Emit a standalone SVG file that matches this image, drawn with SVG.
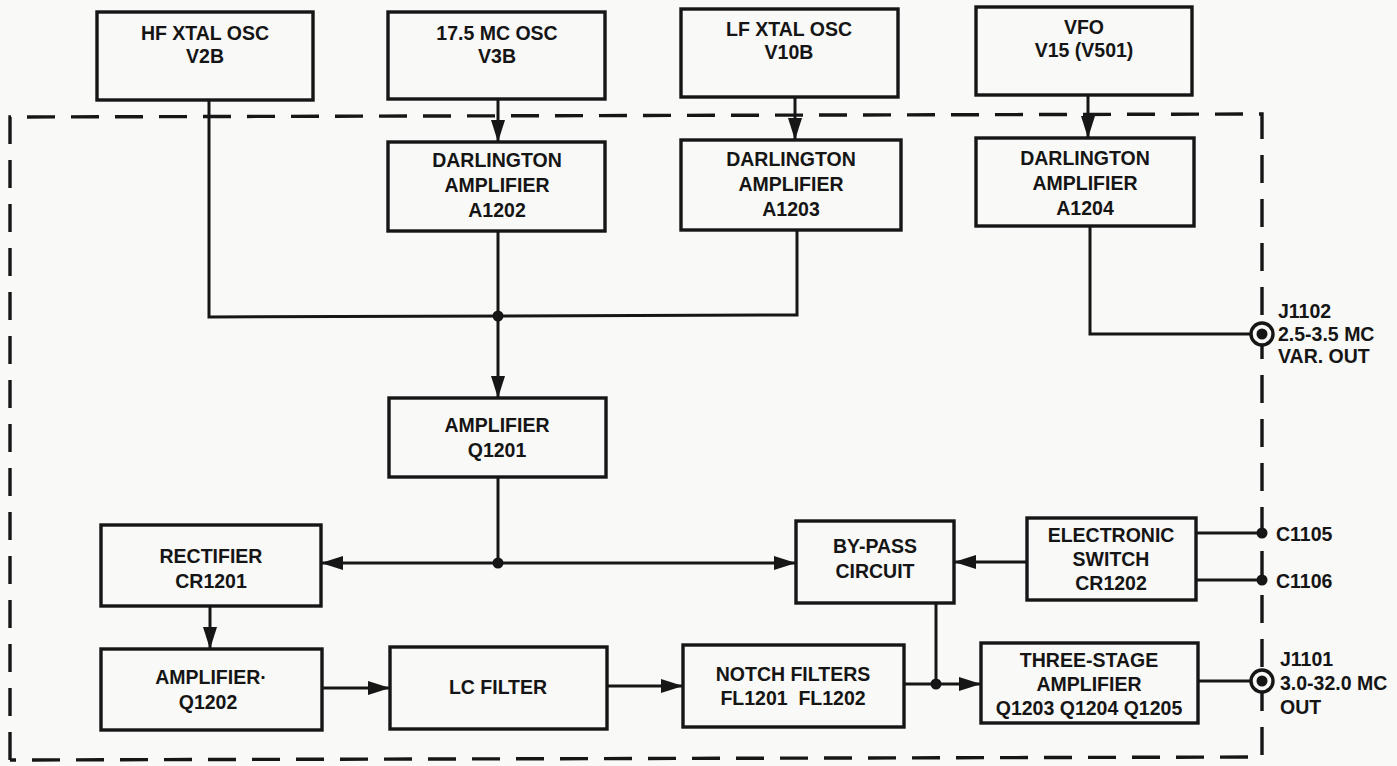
<svg xmlns="http://www.w3.org/2000/svg" width="1397" height="766" viewBox="0 0 1397 766">
<defs>
<style>
.box{fill:none;stroke:#161616;stroke-width:3.4}
.ln{fill:none;stroke:#161616;stroke-width:3}
.dash{fill:none;stroke:#161616;stroke-width:3.4;stroke-dasharray:28 16}
text{font-family:"Liberation Sans","DejaVu Sans",sans-serif;font-size:19.5px;font-weight:bold;fill:#151515;text-anchor:middle}
.lbl{text-anchor:start}
.dot{fill:#161616}
</style>
<marker id="ah" viewBox="0 0 22 14" refX="22" refY="7" markerWidth="22" markerHeight="14" markerUnits="userSpaceOnUse" orient="auto">
<path d="M0,0 L22,7 L0,14 z" fill="#161616"/>
</marker>
</defs>
<rect width="1397" height="766" fill="#f9f9f7"/>
<path class="dash" d="M10,760 L10,117 L1262,114 L1262,757 L10,760"/>
<g id="connectors">
<path class="ln" d="M209,100 L209,317 L797,315 L797,230"/>
<path class="ln" d="M498,99 L498,142" marker-end="url(#ah)"/>
<path class="ln" d="M795,97 L795,140" marker-end="url(#ah)"/>
<path class="ln" d="M1088,95 L1088,138" marker-end="url(#ah)"/>
<path class="ln" d="M498,231 L498,398" marker-end="url(#ah)"/>
<circle class="dot" cx="498" cy="316" r="5.5"/>
<path class="ln" d="M1090,226 L1090,334 L1251,334"/>
<path class="ln" d="M498,477 L498,563"/>
<path class="ln" d="M498,563 L321,563" marker-end="url(#ah)"/>
<path class="ln" d="M498,563 L796,563" marker-end="url(#ah)"/>
<circle class="dot" cx="498" cy="563" r="5.5"/>
<path class="ln" d="M1027,562 L954,562" marker-end="url(#ah)"/>
<path class="ln" d="M1196,533 L1262,533"/>
<circle class="dot" cx="1262" cy="533" r="5.5"/>
<path class="ln" d="M1196,580 L1262,580"/>
<circle class="dot" cx="1262" cy="580" r="5.5"/>
<path class="ln" d="M210,606 L210,649" marker-end="url(#ah)"/>
<path class="ln" d="M322,688 L390,688" marker-end="url(#ah)"/>
<path class="ln" d="M607,686 L683,686" marker-end="url(#ah)"/>
<path class="ln" d="M904,684 L981,684" marker-end="url(#ah)"/>
<path class="ln" d="M936,603 L936,684"/>
<circle class="dot" cx="936" cy="684" r="5.5"/>
<path class="ln" d="M1198,681 L1251,681"/>
</g>
<g id="J1102">
<circle cx="1262" cy="334" r="11" fill="#f9f9f7" stroke="#161616" stroke-width="3.4"/>
<circle class="dot" cx="1262" cy="334" r="5.5"/>
<text class="lbl" x="1278" y="318">J1102</text>
<text class="lbl" x="1278" y="341">2.5-3.5 MC</text>
<text class="lbl" x="1278" y="363">VAR. OUT</text>
</g>
<g id="J1101">
<circle cx="1262" cy="681" r="11" fill="#f9f9f7" stroke="#161616" stroke-width="3.4"/>
<circle class="dot" cx="1262" cy="681" r="5.5"/>
<text class="lbl" x="1280" y="666">J1101</text>
<text class="lbl" x="1280" y="690">3.0-32.0 MC</text>
<text class="lbl" x="1280" y="714">OUT</text>
</g>
<g id="C1105"><text class="lbl" x="1276" y="541">C1105</text></g>
<g id="C1106"><text class="lbl" x="1276" y="588">C1106</text></g>
<g id="hfosc"><rect class="box" x="97" y="12" width="216" height="88"/><text x="205" y="40">HF XTAL OSC</text><text x="205" y="63">V2B</text></g>
<g id="mcosc"><rect class="box" x="388" y="12" width="217" height="87"/><text x="497" y="40">17.5 MC OSC</text><text x="497" y="63">V3B</text></g>
<g id="lfosc"><rect class="box" x="681" y="9" width="217" height="88"/><text x="789" y="36">LF XTAL OSC</text><text x="789" y="59">V10B</text></g>
<g id="vfo"><rect class="box" x="976" y="7" width="216" height="88"/><text x="1084" y="34">VFO</text><text x="1084" y="57">V15 (V501)</text></g>
<g id="a1202"><rect class="box" x="388" y="142" width="217" height="89"/><text x="497" y="167">DARLINGTON</text><text x="497" y="192">AMPLIFIER</text><text x="497" y="217">A1202</text></g>
<g id="a1203"><rect class="box" x="681" y="140" width="220" height="90"/><text x="791" y="166">DARLINGTON</text><text x="791" y="191">AMPLIFIER</text><text x="791" y="216">A1203</text></g>
<g id="a1204"><rect class="box" x="976" y="138" width="218" height="88"/><text x="1085" y="165">DARLINGTON</text><text x="1085" y="190">AMPLIFIER</text><text x="1085" y="215">A1204</text></g>
<g id="q1201"><rect class="box" x="389" y="398" width="217" height="79"/><text x="497" y="432">AMPLIFIER</text><text x="497" y="457">Q1201</text></g>
<g id="cr1201"><rect class="box" x="101" y="525" width="220" height="81"/><text x="211" y="563">RECTIFIER</text><text x="211" y="588">CR1201</text></g>
<g id="q1202"><rect class="box" x="101" y="649" width="221" height="81"/><text x="211" y="684">AMPLIFIER·</text><text x="208" y="709">Q1202</text></g>
<g id="lcfilter"><rect class="box" x="390" y="647" width="217" height="82"/><text x="498" y="694">LC FILTER</text></g>
<g id="notch"><rect class="box" x="683" y="645" width="221" height="82"/><text x="793" y="681">NOTCH FILTERS</text><text x="793" y="705">FL1201&#160;&#160;FL1202</text></g>
<g id="bypass"><rect class="box" x="796" y="521" width="158" height="82"/><text x="875" y="553">BY-PASS</text><text x="875" y="578">CIRCUIT</text></g>
<g id="eswitch"><rect class="box" x="1027" y="518" width="169" height="82"/><text x="1111" y="542">ELECTRONIC</text><text x="1111" y="566">SWITCH</text><text x="1111" y="590">CR1202</text></g>
<g id="threestage"><rect class="box" x="981" y="643" width="217" height="80"/><text x="1089" y="667">THREE-STAGE</text><text x="1089" y="691">AMPLIFIER</text><text x="1089" y="715">Q1203 Q1204 Q1205</text></g>
</svg>
